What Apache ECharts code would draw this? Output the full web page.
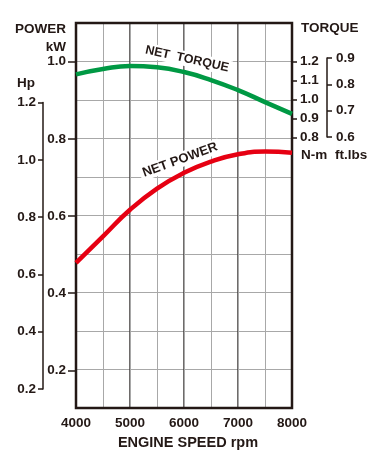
<!DOCTYPE html>
<html><head><meta charset="utf-8">
<script src="https://cdn.jsdelivr.net/npm/echarts@6/dist/echarts.min.js"></script>
<style>html,body{margin:0;padding:0;background:#fff}#c{width:380px;height:470px}</style>
</head><body><div id="c"></div>
<script>
const rpm = [4000, 4500, 5000, 5500, 6000, 6500, 7000, 7500, 8000];
const netPowerKW = [0.477, 0.546, 0.615, 0.670, 0.711, 0.740, 0.759, 0.766, 0.763];
const netTorqueNm = [1.133, 1.161, 1.177, 1.170, 1.145, 1.103, 1.050, 0.987, 0.925];
const xTicks = [4000, 5000, 6000, 7000, 8000];
const kwTicks = [0.2, 0.4, 0.6, 0.8, 1.0];
const hpTicks = [0.2, 0.4, 0.6, 0.8, 1.0, 1.2];
const nmTicks = [0.8, 0.9, 1.0, 1.1, 1.2];
const ftlbTicks = [0.6, 0.7, 0.8, 0.9];

const DARK = '#231815';
const FONT = 'Liberation Sans, Arial, sans-serif';
const lbl = (sz) => ({color: DARK, fontFamily: FONT, fontWeight: 'bold', fontSize: sz});

const chart = echarts.init(document.getElementById('c'), null, {renderer: 'canvas'});
const hiddenX = (g) => ({type: 'value', gridIndex: g, min: 4000, max: 8000, show: false});

chart.setOption({
  animation: false,
  backgroundColor: '#fff',
  grid: [
    {left: 76, top: 23, width: 216, height: 385, show: true, borderColor: DARK, borderWidth: 2.5, backgroundColor: 'transparent', z: 3},
    {left: 76, top: 61.6, width: 216, height: 308.8},
    {left: 43, top: 102.5, width: 10, height: 286.5},
    {left: 76, top: 61.6, width: 216, height: 76},
    {left: 327, top: 58, width: 20, height: 79}
  ],
  xAxis: [
    {type: 'value', gridIndex: 0, min: 4000, max: 8000, interval: 1000, position: 'bottom',
     axisLine: {show: false}, axisTick: {show: false},
     axisLabel: Object.assign(lbl(13.5), {margin: 8, formatter: v => xTicks.includes(v) ? String(v) : ''}),
     splitLine: {show: true, lineStyle: {color: '#3e3a39', width: 1.5}},
     name: 'ENGINE SPEED rpm', nameLocation: 'middle', nameGap: 27,
     nameTextStyle: Object.assign(lbl(14.5), {verticalAlign: 'top', padding: [0, 0, 0, 8]})},
    {type: 'value', gridIndex: 0, min: 4000, max: 8000, interval: 500, position: 'top',
     axisLine: {show: false}, axisTick: {show: false}, axisLabel: {show: false},
     splitLine: {show: true, lineStyle: {color: '#a8a8a8', width: 1}}},
    hiddenX(1), hiddenX(2), hiddenX(3), hiddenX(4)
  ],
  yAxis: [
    {type: 'value', gridIndex: 0, min: 0.1, max: 1.1, interval: 0.1,
     axisLine: {show: false}, axisTick: {show: false}, axisLabel: {show: false},
     splitLine: {show: true, lineStyle: {color: '#a8a8a8', width: 1}}},
    {type: 'value', gridIndex: 1, min: 0.2, max: 1.0, interval: 0.2, position: 'left',
     axisLine: {show: false}, axisTick: {show: true, length: 8, lineStyle: {color: DARK, width: 1.5}},
     axisLabel: Object.assign(lbl(13.5), {margin: 10, formatter: v => kwTicks.some(t => Math.abs(t - v) < 1e-6) ? v.toFixed(1) : ''}),
     splitLine: {show: false}},
    {type: 'value', gridIndex: 2, min: 0.2, max: 1.2, interval: 0.2, position: 'left',
     axisLine: {show: true, lineStyle: {color: DARK, width: 1.5}},
     axisTick: {show: true, length: 5, lineStyle: {color: DARK, width: 1.5}},
     axisLabel: Object.assign(lbl(13.5), {margin: 7, formatter: v => hpTicks.some(t => Math.abs(t - v) < 1e-6) ? v.toFixed(1) : ''}),
     splitLine: {show: false}},
    {type: 'value', gridIndex: 3, min: 0.8, max: 1.2, interval: 0.1, position: 'right',
     axisLine: {show: false}, axisTick: {show: true, length: 5, lineStyle: {color: DARK, width: 1.5}},
     axisLabel: Object.assign(lbl(13.5), {margin: 8, formatter: v => nmTicks.some(t => Math.abs(t - v) < 1e-6) ? v.toFixed(1) : ''}),
     splitLine: {show: false}},
    {type: 'value', gridIndex: 4, min: 0.6, max: 0.9, interval: 0.1, position: 'left',
     axisLine: {show: true, lineStyle: {color: DARK, width: 1.5}},
     axisTick: {show: true, inside: true, length: 5, lineStyle: {color: DARK, width: 1.5}},
     axisLabel: Object.assign(lbl(13.5), {inside: true, margin: 9, formatter: v => ftlbTicks.some(t => Math.abs(t - v) < 1e-6) ? v.toFixed(1) : ''}),
     splitLine: {show: false}}
  ],
  series: [
    {type: 'line', xAxisIndex: 0, yAxisIndex: 0, smooth: 0.5, symbol: 'none', clip: false, z: 5,
     data: rpm.map((r, i) => [r, netPowerKW[i]]),
     lineStyle: {color: '#e60012', width: 4.5}},
    {type: 'line', xAxisIndex: 4, yAxisIndex: 3, smooth: 0.5, symbol: 'none', clip: false, z: 5,
     data: rpm.map((r, i) => [r, netTorqueNm[i]]),
     lineStyle: {color: '#009944', width: 4.5}}
  ],
  graphic: [
    {type: 'text', x: 66, y: 29, style: {text: 'POWER', font: 'bold 13.5px ' + FONT, fill: DARK, textAlign: 'right', textVerticalAlign: 'middle'}},
    {type: 'text', x: 66, y: 47, style: {text: 'kW', font: 'bold 13.5px ' + FONT, fill: DARK, textAlign: 'right', textVerticalAlign: 'middle'}},
    {type: 'text', x: 17, y: 83, style: {text: 'Hp', font: 'bold 13.5px ' + FONT, fill: DARK, textAlign: 'left', textVerticalAlign: 'middle'}},
    {type: 'text', x: 301, y: 28, style: {text: 'TORQUE', font: 'bold 13.5px ' + FONT, fill: DARK, textAlign: 'left', textVerticalAlign: 'middle'}},
    {type: 'text', x: 301, y: 155, style: {text: 'N-m', font: 'bold 13.5px ' + FONT, fill: DARK, textAlign: 'left', textVerticalAlign: 'middle'}},
    {type: 'text', x: 335, y: 155, style: {text: 'ft.lbs', font: 'bold 13.5px ' + FONT, fill: DARK, textAlign: 'left', textVerticalAlign: 'middle'}},
    {type: 'text', x: 187, y: 59, rotation: -0.215, z: 10,
     style: {text: 'NET  TORQUE', font: 'bold 12.5px ' + FONT, fill: DARK, textAlign: 'center', textVerticalAlign: 'middle', backgroundColor: '#fff', padding: [1, 3]}},
    {type: 'text', x: 180, y: 160, rotation: 0.35, z: 10,
     style: {text: 'NET POWER', font: 'bold 13px ' + FONT, fill: DARK, textAlign: 'center', textVerticalAlign: 'middle', backgroundColor: '#fff', padding: [1, 3]}}
  ]
});
</script></body></html>
